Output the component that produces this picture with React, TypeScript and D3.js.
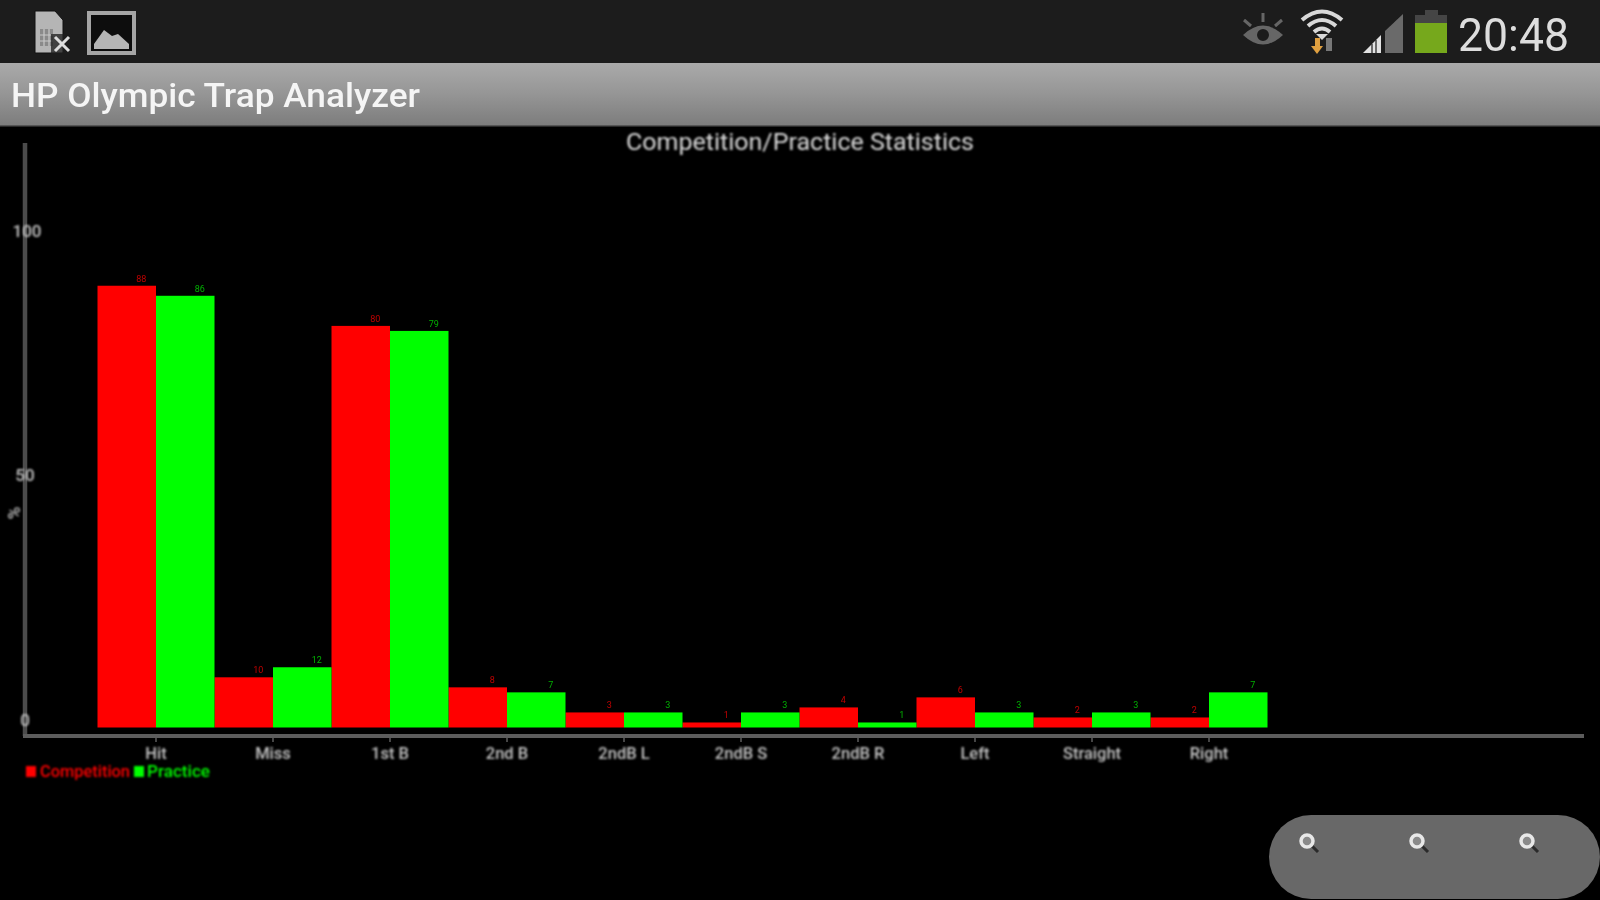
import React from "react";
import * as d3 from "d3";

const categories = ["Hit", "Miss", "1st B", "2nd B", "2ndB L", "2ndB S", "2ndB R", "Left", "Straight", "Right"];
const competition = [88, 10, 80, 8, 3, 1, 4, 6, 2, 2];
const practice = [86, 12, 79, 7, 3, 3, 1, 3, 3, 7];
const yTicks = [0, 50, 100];
const seriesNames = ["Competition", "Practice"];
const seriesColors = ["#ff0000", "#00ff00"];
const chartTitle = "Competition/Practice Statistics";
const appTitle = "HP Olympic Trap Analyzer";
const clock = "20:48";

const x = d3.scaleBand<string>().domain(categories).range([97.5, 1267.5]).padding(0);
const y = d3.scaleLinear().domain([0, 100]).range([727.5, 225.5]);
const tickLabelY = d3.scaleLinear().domain([0, 100]).range([726.4, 236.5]);
const series = [competition, practice];
const sans = "Roboto, 'Open Sans', sans-serif";
const zoomIconX = [1307, 1417, 1527];

function Magnifier({ cx, cy }: { cx: number; cy: number }) {
  return (
    <g>
      <line x1={cx + 4} y1={cy + 4} x2={cx + 11} y2={cy + 11} stroke="#2a2a2a" strokeWidth={3} />
      <circle cx={cx} cy={cy} r={6} fill="#8a8a8a" stroke="#e8e8e8" strokeWidth={3.5} />
    </g>
  );
}

export default function App() {
  const band = x.bandwidth();
  const half = band / 2;
  return (
    <svg width={1600} height={900} viewBox="0 0 1600 900" style={{ position: "fixed", left: 0, top: 0, display: "block", background: "#000" }}>
      <defs>
        <linearGradient id="bar" x1="0" y1="0" x2="0" y2="1">
          <stop offset="0" stopColor="#aaaaaa" />
          <stop offset="0.5" stopColor="#959595" />
          <stop offset="1" stopColor="#7c7c7c" />
        </linearGradient>
        <filter id="soft" x="-5%" y="-5%" width="110%" height="110%"><feGaussianBlur stdDeviation="0.7" /></filter>
        <filter id="blurText" x="-10%" y="-30%" width="120%" height="160%"><feGaussianBlur stdDeviation="0.8" /></filter>
        <filter id="blurTiny" x="-50%" y="-50%" width="200%" height="200%"><feGaussianBlur stdDeviation="0.7" /></filter>
      </defs>
      <rect width={1600} height={900} fill="#000" />

      <g filter="url(#soft)">
        <rect width={1600} height={63} fill="#1c1c1c" />
        <rect y={63} width={1600} height={63} fill="url(#bar)" />
        <rect y={125} width={1600} height={1.5} fill="#555" />

        {/* status bar, left */}
        <path d="M35 11 H55 L63 20 V53 H35 Z" fill="#b5b5b5" stroke="#111" strokeWidth={1} />
        <path d="M40 29 H53 V46 H40 Z" fill="#8a8a8a" />
        <path d="M44 29 V46 M49 29 V46 M40 35 H53 M40 41 H53" stroke="#c8c8c8" strokeWidth={1.2} />
        <path d="M51 34 H71 V54 H51 Z" fill="#1c1c1c" opacity={0.75} />
        <path d="M55 37 L69 51 M69 37 L55 51" stroke="#ddd" strokeWidth={3} />
        <rect x={89} y={13} width={45} height={40} fill="#111" stroke="#a5a5a5" strokeWidth={4} />
        <path d="M94 44 L104 30 L112 36 L118 34 L129 44 V49 H94 Z" fill="#b5b5b5" />

        {/* status bar, right */}
        <path d="M1243 35 Q1263 16 1283 35 Q1263 54 1243 35 Z" fill="#666" />
        <circle cx={1263} cy={35} r={7} fill="#1c1c1c" stroke="#666" strokeWidth={2} />
        <path d="M1244 20 L1251 26 M1263 13 V22 M1282 20 L1275 26" stroke="#666" strokeWidth={3} />
        <g fill="none" stroke="#d8d8d8" strokeWidth={4}>
          <path d="M1302 20 Q1322 3 1342 20" />
          <path d="M1308 26 Q1322 14 1336 26" />
          <path d="M1314 32 Q1322 25 1330 32" />
        </g>
        <path d="M1316 34 H1328 L1322 40 Z" fill="#d8d8d8" />
        <path d="M1315 38 H1320 V46 H1323 L1317 54 L1311 46 H1315 Z" fill="#e0a040" />
        <rect x={1326} y={38} width={6} height={13} fill="#777" />
        <path d="M1363 53 L1381 35 V53 Z" fill="#e2e2e2" />
        <path d="M1372 44 V53 M1376 40 V53" stroke="#1c1c1c" strokeWidth={1.2} />
        <path d="M1385 31 L1403 14 V53 H1385 Z" fill="#6a6a6a" />
        <rect x={1425} y={10} width={13} height={6} fill="#444" />
        <rect x={1415} y={15} width={32} height={9} fill="#444" />
        <rect x={1415} y={23} width={32} height={30} fill="#76a81c" />
        <text x={1458} y={51} fontFamily={sans} fontSize={46} fontWeight={400} fill="#dddddd" textLength={111} lengthAdjust="spacingAndGlyphs">{clock}</text>

        <text x={11} y={107} fontFamily={sans} fontSize={33} fontWeight={500} fill="#f5f5f5" textLength={409} lengthAdjust="spacingAndGlyphs">{appTitle}</text>

        {/* zoom control */}
        <rect x={1269} y={815} width={331} height={84} rx={42} fill="#676767" />
        {zoomIconX.map((cx) => <Magnifier key={cx} cx={cx} cy={841} />)}

        {/* bars */}
        {series.map((vals, s) =>
          vals.map((v, i) => (
            <rect
              key={`${s}-${i}`}
              x={(x(categories[i]) as number) + s * half}
              y={y(v)}
              width={half}
              height={y(0) - y(v)}
              fill={seriesColors[s]}
            />
          ))
        )}

        {/* axes */}
        <line x1={25} y1={143} x2={25} y2={736} stroke="#4c4c4c" strokeWidth={4.5} />
        <line x1={23} y1={736} x2={1584} y2={736} stroke="#5c5c5c" strokeWidth={4} />
        {categories.map((c) => {
          const cx = (x(c) as number) + half;
          return <line key={c} x1={cx} y1={736} x2={cx} y2={742} stroke="#5c5c5c" strokeWidth={1.5} />;
        })}
      </g>

      {/* text */}
      <g filter="url(#blurText)" fontFamily={sans}>
        <text x={800} y={150} textAnchor="middle" fontSize={24} fontWeight={400} fill="#dcdcdc" textLength={348} lengthAdjust="spacingAndGlyphs">{chartTitle}</text>
        {categories.map((c) => (
          <text key={c} x={(x(c) as number) + half} y={759} textAnchor="middle" fontSize={16.5} fontWeight={500} fill="#c4c4c4">{c}</text>
        ))}
        {yTicks.map((t) => (
          <text key={t} x={t === 100 ? 27 : 25} y={tickLabelY(t)} textAnchor="middle" fontSize={17} fontWeight={500} fill="#c4c4c4">{t}</text>
        ))}
        <text transform="translate(20,513) rotate(-90)" textAnchor="middle" fontSize={17} fontWeight={500} fill="#c4c4c4">%</text>

        <rect x={26} y={766} width={10} height={11} fill={seriesColors[0]} />
        <text x={40} y={777} fontSize={17} fontWeight={500} fill={seriesColors[0]} textLength={90} lengthAdjust="spacingAndGlyphs">{seriesNames[0]}</text>
        <rect x={134} y={766} width={10} height={11} fill={seriesColors[1]} />
        <text x={147} y={777} fontSize={17} fontWeight={500} fill={seriesColors[1]} textLength={63} lengthAdjust="spacingAndGlyphs">{seriesNames[1]}</text>
      </g>

      {/* value labels */}
      <g filter="url(#blurTiny)" fontFamily={sans} fontSize={9} textAnchor="middle">
        {series.map((vals, s) =>
          vals.map((v, i) => (
            <text
              key={`${s}-${i}`}
              x={(x(categories[i]) as number) + s * half + half / 2 + 14.5}
              y={y(v) - 4}
              fill={s === 0 ? "#c00000" : "#00b000"}
            >
              {v}
            </text>
          ))
        )}
      </g>
    </svg>
  );
}
